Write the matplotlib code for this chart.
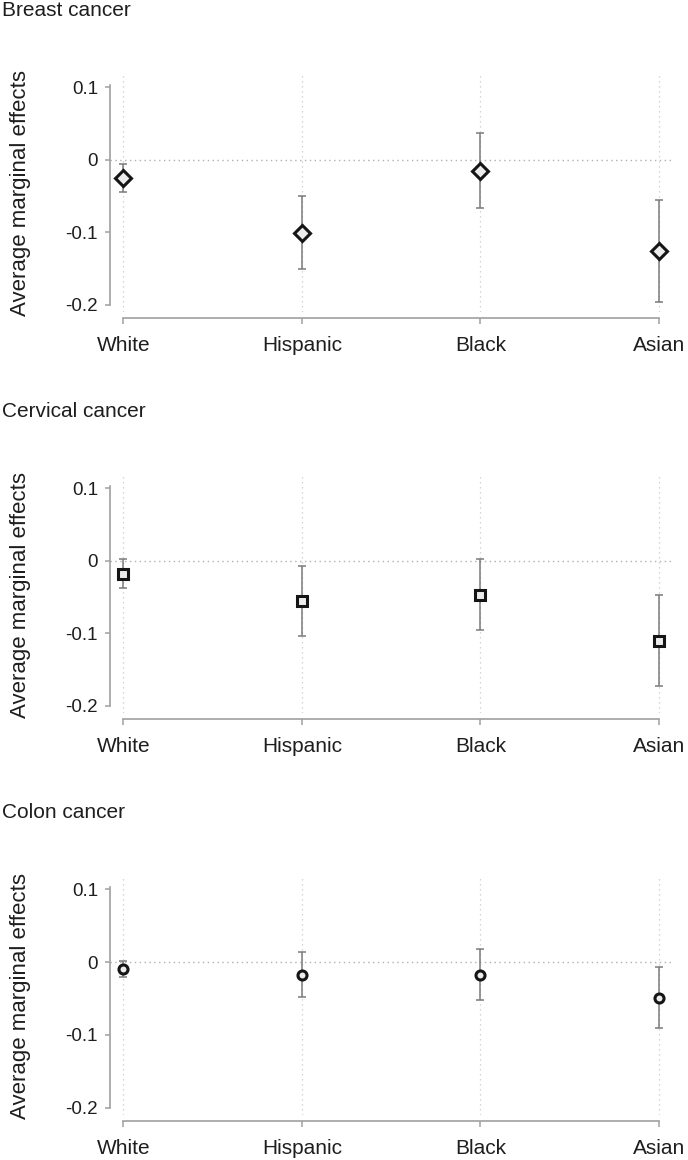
import matplotlib
matplotlib.use("Agg")
import matplotlib.pyplot as plt

plt.rcParams["font.family"] = ["Liberation Sans", "DejaVu Sans"]

groups = ["White", "Hispanic", "Black", "Asian"]

breast_est = [-0.025, -0.101, -0.015, -0.126]
breast_lo = [-0.045, -0.151, -0.067, -0.196]
breast_hi = [-0.006, -0.050, 0.037, -0.056]

cervical_est = [-0.018, -0.056, -0.047, -0.110]
cervical_lo = [-0.037, -0.104, -0.095, -0.173]
cervical_hi = [0.002, -0.007, 0.002, -0.047]

colon_est = [-0.010, -0.017, -0.018, -0.049]
colon_lo = [-0.021, -0.048, -0.052, -0.090]
colon_hi = [0.002, 0.014, 0.018, -0.007]

yticks = [-0.2, -0.1, 0, 0.1]
ytick_labels = ["-0.2", "-0.1", "0", "0.1"]

panels = [
    ("Breast cancer", breast_est, breast_lo, breast_hi, "D", 8),
    ("Cervical cancer", cervical_est, cervical_lo, cervical_hi, "s", 7),
    ("Colon cancer", colon_est, colon_lo, colon_hi, "o", 6.5),
]

# pixel layout of each panel: (title centre y, axes top y, axes bottom y)
layout = [(10, 75, 312), (412, 476, 713), (813, 877, 1115)]

W, H = 688, 1160
fig = plt.figure(figsize=(W / 100, H / 100), dpi=100)

spine_col = "#a0a0a0"
err_col = "#7a7a7a"
grid_col = "#c8c8c8"
text_col = "#1e1e1e"

for (title, est, lo, hi, mk, ms), (ty, top, bot) in zip(panels, layout):
    ax = fig.add_axes([110 / W, 1 - bot / H, (672 - 110) / W, (bot - top) / H])
    x = list(range(len(groups)))
    yerr = [[e - l for e, l in zip(est, lo)], [h - e for e, h in zip(est, hi)]]

    for xi in x:
        ax.axvline(xi, color=grid_col, lw=0.9, ls=(0, (1, 3)), zorder=0)
    ax.axhline(0, color="#b0b0b0", lw=1.0, ls=(0, (1, 2.5)), zorder=0)

    ax.errorbar(x, est, yerr=yerr, fmt="none", ecolor=err_col, elinewidth=1.1,
                capsize=3.2, capthick=1.1, zorder=2)
    ax.plot(x, est, ls="none", marker=mk, ms=ms, mfc="#ececec", mec="#151515",
            mew=2.2, zorder=3)

    ax.set_xlim(-0.075, 3.073)
    ax.set_ylim(-0.21, 0.117)
    ax.set_yticks(yticks)
    ax.set_yticklabels(ytick_labels)
    ax.set_xticks(x)
    ax.set_xticklabels(groups)

    for s in ["top", "right"]:
        ax.spines[s].set_visible(False)
    ax.spines["left"].set_bounds(-0.2, 0.103)
    ax.spines["bottom"].set_bounds(0, 3)
    ax.spines["bottom"].set_position(("outward", 4.5))
    for s in ["left", "bottom"]:
        ax.spines[s].set_color(spine_col)
        ax.spines[s].set_linewidth(1.2)

    ax.tick_params(axis="y", length=3.6, width=1.1, color=spine_col, pad=5,
                   labelsize=13.5, labelcolor=text_col)
    ax.tick_params(axis="x", length=4.5, width=1.1, color=spine_col, pad=8,
                   labelsize=15, labelcolor=text_col)
    ax.set_ylabel("Average marginal effects", fontsize=16, color=text_col)
    ax.yaxis.set_label_coords(-0.14, 0.5)

    fig.text(2 / W, 1 - ty / H, title, ha="left", va="center", fontsize=15,
             color=text_col)

fig.savefig("out.png", dpi=100, facecolor="white")
